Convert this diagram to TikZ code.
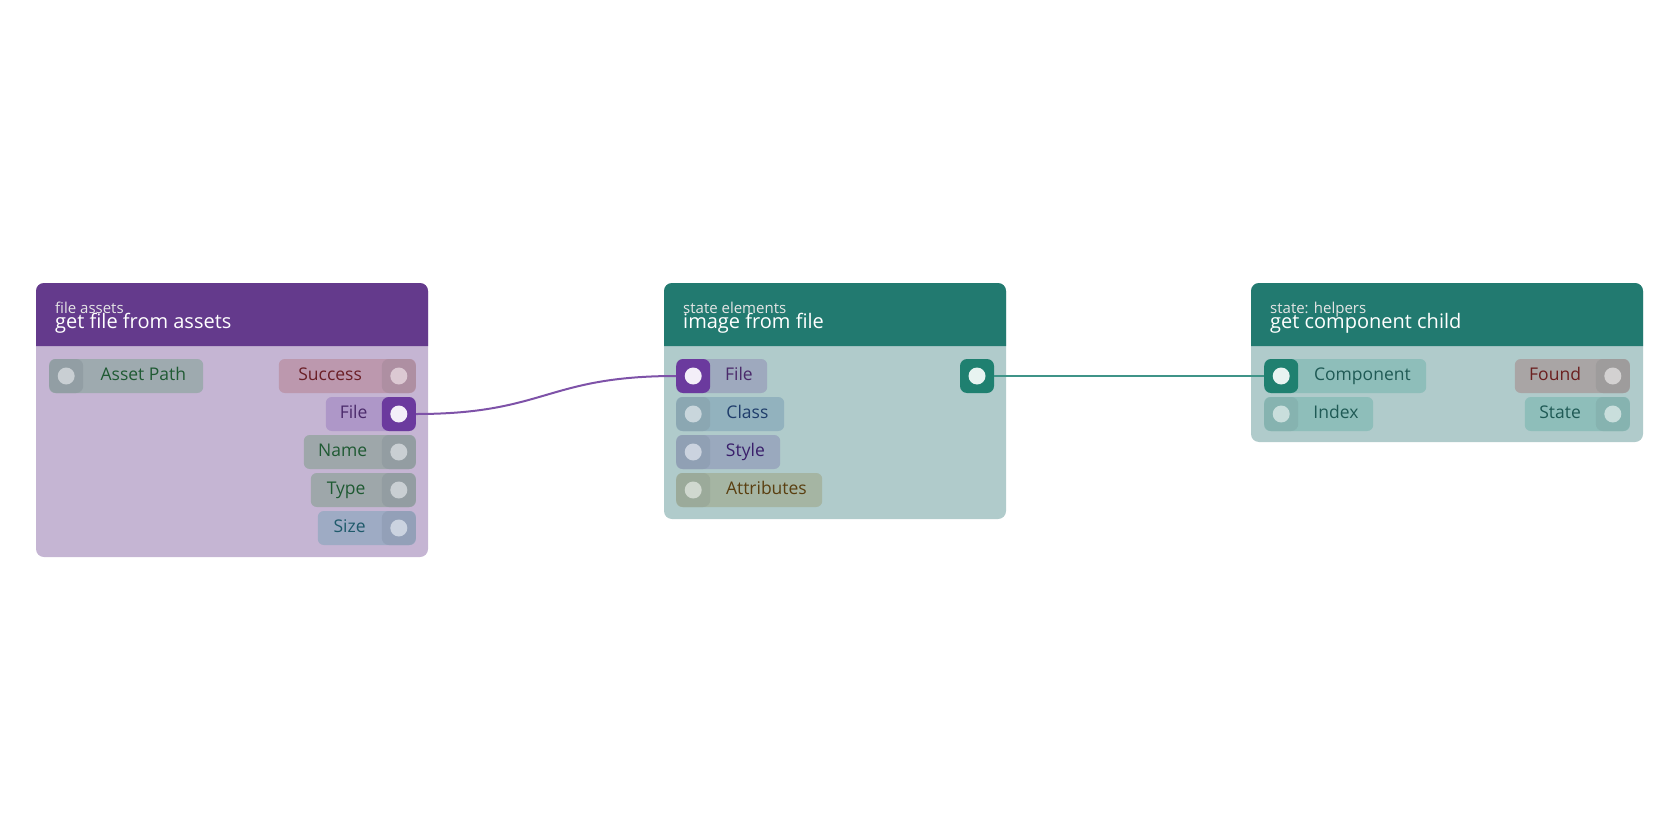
\documentclass[tikz,border=0pt]{standalone}
\usepackage{fontspec}
\setmainfont{Open Sans}
\usetikzlibrary{positioning,calc}

\definecolor{purphead}{HTML}{643A8C}
\definecolor{purpbody}{HTML}{C5B5D3}
\definecolor{tealhead}{HTML}{227A70}
\definecolor{tealbody}{HTML}{B0CBCB}
\definecolor{purpwire}{HTML}{7E52A8}
\definecolor{tealwire}{HTML}{3F9488}
\definecolor{tealsock}{HTML}{1F8070}
\definecolor{tealdot}{HTML}{E8F3F1}

\tikzset{
  pill/.style={rectangle, rounded corners=6pt, minimum height=34pt,
    inner sep=0pt, draw=none},
  sock/.style={rectangle, rounded corners=7pt, minimum size=34pt,
    inner sep=0pt, draw=none},
  dot/.style={circle, minimum size=17pt, inner sep=0pt, draw=none},
  pintext/.style={font=\fontsize{17.5}{20}\selectfont, inner sep=0pt,
    text height=12.5pt, text depth=3.5pt},
  subtitle/.style={font=\fontsize{15}{17}\selectfont, text=white!80!gray,
    anchor=base west, inner sep=0pt},
  title/.style={font=\fontsize{20}{22}\selectfont, text=white,
    anchor=base west, inner sep=0pt},
}

% input pin: name, left x, centre y, width, pill, socket, dot, text colour, label
\newcommand{\inpin}[9]{%
  \definecolor{pc}{HTML}{#5}\definecolor{sc}{HTML}{#6}%
  \definecolor{dc}{HTML}{#7}\definecolor{tc}{HTML}{#8}%
  \node[pill, fill=pc, minimum width=#4pt, anchor=west] (#1) at (#2,#3) {};
  \node[sock, fill=sc, anchor=west] (#1s) at (#2,#3) {};
  \node[dot, fill=dc] at (#1s) {};
  \node[pintext, text=tc] at ($(#1s.east)!0.5!(#1.east)$) {#9};}
% output pin: name, right x, centre y, width, pill, socket, dot, text colour, label
\newcommand{\outpin}[9]{%
  \definecolor{pc}{HTML}{#5}\definecolor{sc}{HTML}{#6}%
  \definecolor{dc}{HTML}{#7}\definecolor{tc}{HTML}{#8}%
  \node[pill, fill=pc, minimum width=#4pt, anchor=east] (#1) at (#2,#3) {};
  \node[sock, fill=sc, anchor=east] (#1s) at (#2,#3) {};
  \node[dot, fill=dc] at (#1s) {};
  \node[pintext, text=tc] at ($(#1s.west)!0.5!(#1.west)$) {#9};}

\begin{document}
\begin{tikzpicture}[x=1pt,y=-1pt]
  \useasboundingbox (0,0) rectangle (1680,840);

  % bodies
  \fill[purpbody, rounded corners=8pt] (36,283) rectangle (428,557);
  \fill[purphead] (36,346) [rounded corners=8pt] -- (36,283) -- (428,283)
    [sharp corners] -- (428,346) -- cycle;
  \node[subtitle] (t1a) at (55,313) {file assets};
  \node[title] (t1b) at (55,328) {get file from assets};

  \fill[tealbody, rounded corners=8pt] (664,283) rectangle (1006,519);
  \fill[tealhead] (664,346) [rounded corners=8pt] -- (664,283) -- (1006,283)
    [sharp corners] -- (1006,346) -- cycle;
  \node[subtitle] (t2a) at (683,313) {state elements};
  \node[title] (t2b) at (683,328) {image from file};

  \fill[tealbody, rounded corners=8pt] (1251,283) rectangle (1643,442);
  \fill[tealhead] (1251,346) [rounded corners=8pt] -- (1251,283) -- (1643,283)
    [sharp corners] -- (1643,346) -- cycle;
  \node[subtitle] (t3a) at (1270,313) {state: helpers};
  \node[title] (t3b) at (1270,328) {get component child};

  % get file from assets
  \inpin{asset}{49}{376}{154}{9EAAAF}{929EA4}{C9CFD3}{1F5A33}{Asset Path}
  \outpin{success}{416}{376}{137}{BC98AE}{AE8FA2}{DCC9D3}{6B1F27}{Success}
  \outpin{fileout}{416}{414}{90}{AE97C8}{6B3A9E}{F3EFF8}{4B2A6B}{File}
  \outpin{name}{416}{452}{112}{9EA7AA}{939DA2}{C9CFD3}{1F5A33}{Name}
  \outpin{type}{416}{490}{105}{9EA7AA}{939DA2}{C9CFD3}{1F5A33}{Type}
  \outpin{size}{416}{528}{98}{9EABC4}{93A0B8}{CBD3E0}{1F5A6B}{Size}

  % image from file
  \inpin{imgfile}{676}{376}{91}{9EA9BE}{6B3A9E}{F3EFF8}{4B2A6B}{File}
  \inpin{class}{676}{414}{108}{92B2BE}{8BA7B2}{C9D6DC}{1F3D6B}{Class}
  \inpin{style}{676}{452}{104}{9AA9BE}{90A0B4}{CBD3DF}{3A1F6B}{Style}
  \inpin{attr}{676}{490}{146}{A5B5A3}{9BAA9A}{D0D8CF}{5A3F10}{Attributes}
  \node[sock, fill=tealsock] (imgouts) at (977,376) {};
  \node[dot, fill=tealdot] at (imgouts) {};

  % get component child
  \inpin{comp}{1264}{376}{162}{8EBEBA}{1F8070}{E8F3F1}{1F5A55}{Component}
  \inpin{index}{1264}{414}{109}{8EBEBA}{86B3B0}{C9DEDC}{1F5A55}{Index}
  \outpin{found}{1630}{376}{115}{A9A5A5}{9E9C9C}{D3D1D1}{6B1F1F}{Found}
  \outpin{state}{1630}{414}{105}{8EBEBA}{86B3B0}{C9DEDC}{1F5A55}{State}

  % wires
  \draw[purpwire, line width=2pt] (fileouts.east) .. controls +(130,0) and +(-130,0) .. (imgfiles.west);
  \draw[tealwire, line width=2pt] (imgouts.east) -- (comps.west);
\end{tikzpicture}
\end{document}
